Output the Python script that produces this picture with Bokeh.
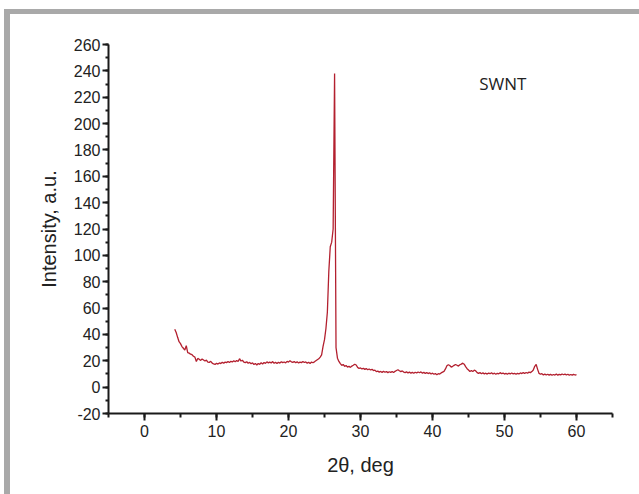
from bokeh.plotting import figure
from bokeh.models import Range1d, SingleIntervalTicker, Label, PrintfTickFormatter
from bokeh.embed import file_html
from bokeh.resources import INLINE

# XRD scan of SWNT: 2theta from 4.2 deg in 0.2 deg steps (ten readings per row)
scan_start = 4.2
scan_step = 0.2
intensity_rows = [
    [44.0, 41.5, 37.8, 34.5, 33.0, 30.8, 29.5, 28.1, 31.5, 26.2],   # 4.2 - 6.0
    [25.8, 25.0, 24.6, 23.5, 22.8, 19.5, 21.8, 21.2, 20.3, 21.4],   # 6.2 - 8.0
    [20.6, 19.8, 20.5, 19.0, 18.8, 19.6, 18.2, 17.6, 17.2, 18.1],   # 8.2 - 10.0
    [17.5, 18.4, 17.9, 18.8, 18.2, 19.0, 18.6, 19.4, 18.7, 19.6],   # 10.2 - 12.0
    [19.1, 20.0, 19.3, 20.2, 19.5, 21.6, 19.8, 20.4, 19.0, 18.6],   # 12.2 - 14.0
    [19.3, 18.1, 18.8, 17.7, 18.4, 17.2, 18.0, 16.8, 17.9, 17.3],   # 14.2 - 16.0
    [18.5, 17.6, 18.7, 18.0, 19.2, 18.4, 19.0, 18.3, 19.4, 18.1],   # 16.2 - 18.0
    [18.8, 17.9, 18.9, 18.2, 19.3, 18.6, 19.1, 18.4, 19.6, 19.0],   # 18.2 - 20.0
    [20.1, 19.2, 18.8, 19.5, 18.5, 19.2, 18.3, 19.0, 18.6, 19.4],   # 20.2 - 22.0
    [18.7, 19.1, 18.2, 18.9, 18.0, 19.0, 18.5, 19.2, 20.0, 20.8],   # 22.2 - 24.0
    [21.5, 22.8, 24.5, 31.0, 36.0, 44.5, 57.0, 88.0, 106.5, 110.0], # 24.2 - 26.0
    [120.0, 238.0, 30.0, 22.0, 19.5, 17.8, 16.5, 17.2, 15.8, 16.4], # 26.2 - 28.0
    [15.2, 15.9, 15.0, 16.0, 16.6, 17.4, 16.8, 15.0, 14.2, 14.6],   # 28.2 - 30.0
    [13.8, 14.3, 13.5, 14.1, 13.2, 13.8, 13.0, 13.5, 12.6, 12.9],   # 30.2 - 32.0
    [11.8, 12.2, 11.4, 11.9, 11.2, 12.0, 11.3, 11.8, 11.0, 11.7],   # 32.2 - 34.0
    [11.2, 11.9, 11.1, 12.0, 12.6, 13.2, 12.4, 11.8, 12.3, 11.4],   # 34.2 - 36.0
    [11.0, 11.6, 10.8, 11.4, 10.6, 11.2, 10.5, 11.3, 10.7, 11.5],   # 36.2 - 38.0
    [10.9, 11.6, 10.6, 11.2, 10.4, 11.0, 10.3, 10.9, 10.0, 10.6],   # 38.2 - 40.0
    [9.8, 10.3, 9.4, 10.2, 9.9, 10.8, 11.4, 12.0, 13.8, 16.2],      # 40.2 - 42.0
    [17.0, 16.4, 15.2, 15.8, 16.5, 17.2, 16.6, 16.0, 17.0, 17.5],   # 42.2 - 44.0
    [18.2, 17.4, 15.6, 14.0, 13.0, 11.9, 12.6, 11.8, 12.9, 12.4],   # 44.2 - 46.0
    [11.0, 10.4, 11.0, 10.2, 10.8, 10.1, 10.6, 9.9, 10.7, 10.2],    # 46.2 - 48.0
    [10.9, 10.0, 10.6, 9.8, 10.5, 10.1, 11.0, 10.2, 10.7, 9.9],     # 48.2 - 50.0
    [10.4, 9.8, 10.6, 10.0, 10.7, 10.1, 10.5, 9.8, 10.4, 10.0],     # 50.2 - 52.0
    [10.8, 10.3, 11.0, 10.4, 11.1, 10.6, 11.4, 11.0, 11.8, 13.0],   # 52.2 - 54.0
    [15.8, 17.2, 13.5, 10.4, 9.8, 10.2, 9.3, 9.9, 9.2, 9.8],        # 54.2 - 56.0
    [9.1, 9.7, 9.0, 9.6, 9.2, 9.9, 9.1, 9.7, 9.3, 10.0],            # 56.2 - 58.0
    [9.4, 9.9, 9.2, 9.8, 9.0, 9.6, 9.1, 9.7, 9.2, 9.5],             # 58.2 - 60.0
]
intensity = [v for row in intensity_rows for v in row]
two_theta = [round(scan_start + scan_step * i, 2) for i in range(len(intensity))]

x_limits = (-5, 65)
y_limits = (-20, 260)
x_tick_interval = 10
y_tick_interval = 20
sample_label = "SWNT"
x_title = "2θ, deg"
y_title = "Intensity, a.u."

frame_grey = "#a9a9a9"
grey_bars = {
    "background-image": f"linear-gradient({frame_grey}, {frame_grey}), linear-gradient({frame_grey}, {frame_grey})",
    "background-size": "6px 485px, 635px 5px",
    "background-position": "4px 9px, 4px 9px",
    "background-repeat": "no-repeat",
}

p = figure(width=639, height=494, output_backend="svg", toolbar_location=None,
           title=None,
           x_range=Range1d(*x_limits), y_range=Range1d(*y_limits),
           min_border_left=108, min_border_right=27,
           min_border_top=44, min_border_bottom=81,
           styles=grey_bars)
p.background_fill_color = "white"
p.border_fill_color = "white"
p.border_fill_alpha = 0.0
p.outline_line_color = None
p.grid.visible = False

p.line(two_theta, intensity, line_color="#b3202f", line_width=1.3)

p.xaxis.ticker = SingleIntervalTicker(interval=x_tick_interval, num_minor_ticks=2)
p.yaxis.ticker = SingleIntervalTicker(interval=y_tick_interval, num_minor_ticks=2)
p.xaxis.formatter = PrintfTickFormatter(format="%d")
p.yaxis.formatter = PrintfTickFormatter(format="%d")
p.xaxis.bounds = x_limits
p.yaxis.bounds = y_limits

for ax in (p.xaxis[0], p.yaxis[0]):
    ax.axis_line_color = "#1a1a1a"
    ax.axis_line_width = 2
    ax.major_tick_line_color = "#1a1a1a"
    ax.major_tick_line_width = 2
    ax.minor_tick_line_color = "#1a1a1a"
    ax.minor_tick_line_width = 2
    ax.major_tick_in = 0
    ax.minor_tick_in = 0
    ax.major_label_text_font = "Liberation Sans"
    ax.major_label_text_font_size = "16px"
    ax.major_label_text_color = "#222222"
    ax.axis_label_text_font = "Liberation Sans"
    ax.axis_label_text_font_size = "20px"
    ax.axis_label_text_font_style = "normal"
    ax.axis_label_text_color = "#222222"

p.xaxis.major_tick_out = 7
p.xaxis.minor_tick_out = 4
p.xaxis.major_label_standoff = 4
p.xaxis.axis_label = x_title
p.xaxis.axis_label_standoff = 14

p.yaxis.major_tick_out = 6
p.yaxis.minor_tick_out = 3
p.yaxis.major_label_standoff = 2
p.yaxis.axis_label = y_title
p.yaxis.axis_label_standoff = 11

p.add_layout(Label(x=46.5, y=230.5, text=sample_label,
                   text_font="Open Sans", text_font_size="17px",
                   text_color="#222222", text_baseline="alphabetic", text_align="left"))

open("out.html", "w").write(file_html(p, INLINE))
